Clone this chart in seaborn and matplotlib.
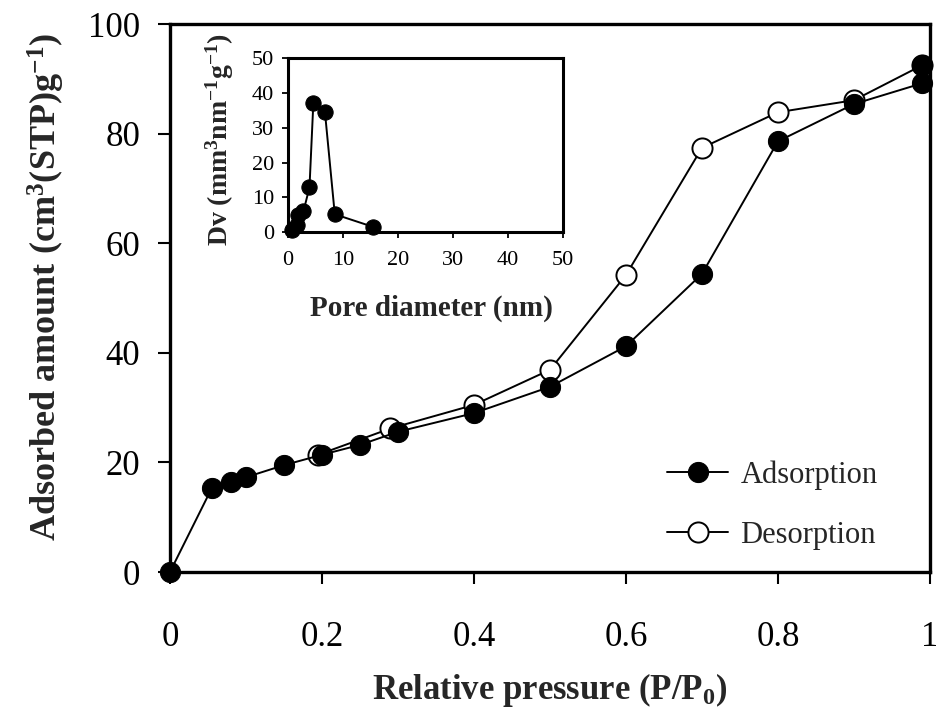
import numpy as np
import pandas as pd
import seaborn as sns
import matplotlib
matplotlib.use("Agg")
import matplotlib.pyplot as plt

# isotherm data
ads_p = [0, 0.055, 0.08, 0.1, 0.15, 0.2, 0.25, 0.3, 0.4, 0.5, 0.6, 0.7, 0.8, 0.9, 0.99, 0.99]
ads_v = [0, 15.3, 16.4, 17.3, 19.5, 21.4, 23.2, 25.6, 29.0, 33.8, 41.2, 54.4, 78.6, 85.4, 89.2, 92.5]
des_p = [0.99, 0.9, 0.8, 0.7, 0.6, 0.5, 0.4, 0.29, 0.195]
des_v = [92.5, 86.1, 83.9, 77.4, 54.2, 36.9, 30.5, 26.2, 21.4]

# pore size distribution (inset)
pore_d = [0.7, 1.6, 1.9, 2.8, 3.9, 4.6, 6.7, 8.5, 15.4]
pore_dv = [0.6, 2.0, 4.9, 5.9, 12.9, 37.1, 34.7, 5.1, 1.5]

x_ticks = [0, 0.2, 0.4, 0.6, 0.8, 1.0]
x_labels = ["0", "0.2", "0.4", "0.6", "0.8", "1"]
y_ticks = [0, 20, 40, 60, 80, 100]
inset_ticks = [0, 10, 20, 30, 40, 50]

sns.set_style("ticks")
plt.rcParams["font.family"] = ["Liberation Serif", "DejaVu Serif"]
plt.rcParams["mathtext.fontset"] = "custom"
plt.rcParams["mathtext.rm"] = "Liberation Serif"
plt.rcParams["mathtext.bf"] = "Liberation Serif:bold"
plt.rcParams["mathtext.it"] = "Liberation Serif:italic"

ads = pd.DataFrame({"p": ads_p, "v": ads_v})
des = pd.DataFrame({"p": des_p, "v": des_v})
psd = pd.DataFrame({"d": pore_d, "dv": pore_dv})

fig = plt.figure(figsize=(9.37, 7.07), dpi=100)
ax = fig.add_axes([0.1814, 0.1909, 0.8111, 0.7751])

sns.lineplot(data=des, x="p", y="v", ax=ax, sort=False, estimator=None,
             color="black", lw=1.4, marker="o", ms=14.5, mfc="white",
             mec="black", mew=1.4, label="Desorption", clip_on=False)
sns.lineplot(data=ads, x="p", y="v", ax=ax, sort=False, estimator=None,
             color="black", lw=1.4, marker="o", ms=14.5, mfc="black",
             mec="black", label="Adsorption", clip_on=False)

ax.set_xlim(0, 1)
ax.set_ylim(0, 100)
ax.set_xticks(x_ticks)
ax.set_xticklabels(x_labels)
ax.set_yticks(y_ticks)
for s in ax.spines.values():
    s.set_linewidth(2.4)
    s.set_color("black")
ax.tick_params(axis="both", direction="out", length=8.5, width=1.5,
               labelsize=25, colors="black")
ax.tick_params(axis="x", pad=27)
ax.tick_params(axis="y", pad=13)

ax.set_xlabel(r"Relative pressure (P/P$_\mathbf{0}$)", fontsize=25, fontweight="bold")
ax.set_ylabel(r"Adsorbed amount (cm$^\mathbf{3}$(STP)g$^\mathbf{-1}$)",
              fontsize=26, fontweight="bold")
ax.xaxis.set_label_coords(0.5, -0.18)
ax.yaxis.set_label_coords(-0.135, 0.52)

h, l = ax.get_legend_handles_labels()
ax.legend(h[::-1], l[::-1], loc="center left", bbox_to_anchor=(0.634, 0.122),
          frameon=False, fontsize=22, handlelength=2.0, handletextpad=0.4,
          labelspacing=1.0, borderpad=0)

# inset
ins = fig.add_axes([0.3074, 0.6719, 0.2935, 0.2454])
sns.lineplot(data=psd, x="d", y="dv", ax=ins, sort=False, estimator=None,
             color="black", lw=1.4, marker="o", ms=11, mfc="black",
             mec="black", clip_on=False)
ins.set_xlim(0, 50)
ins.set_ylim(0, 50)
ins.set_xticks(inset_ticks)
ins.set_yticks(inset_ticks)
for s in ins.spines.values():
    s.set_linewidth(2.2)
    s.set_color("black")
ins.tick_params(axis="both", direction="out", length=4, width=1.3,
                labelsize=16, colors="black")
ins.tick_params(axis="x", pad=10)
ins.tick_params(axis="y", pad=6)
ins.set_xlabel("Pore diameter (nm)", fontsize=21, fontweight="bold")
ins.set_ylabel(r"Dv (mm$^\mathbf{3}$nm$^\mathbf{-1}$g$^\mathbf{-1}$)",
               fontsize=20, fontweight="bold")
ins.xaxis.set_label_coords(0.52, -0.36)
ins.yaxis.set_label_coords(-0.19, 0.53)

fig.savefig("out.png", dpi=100)
